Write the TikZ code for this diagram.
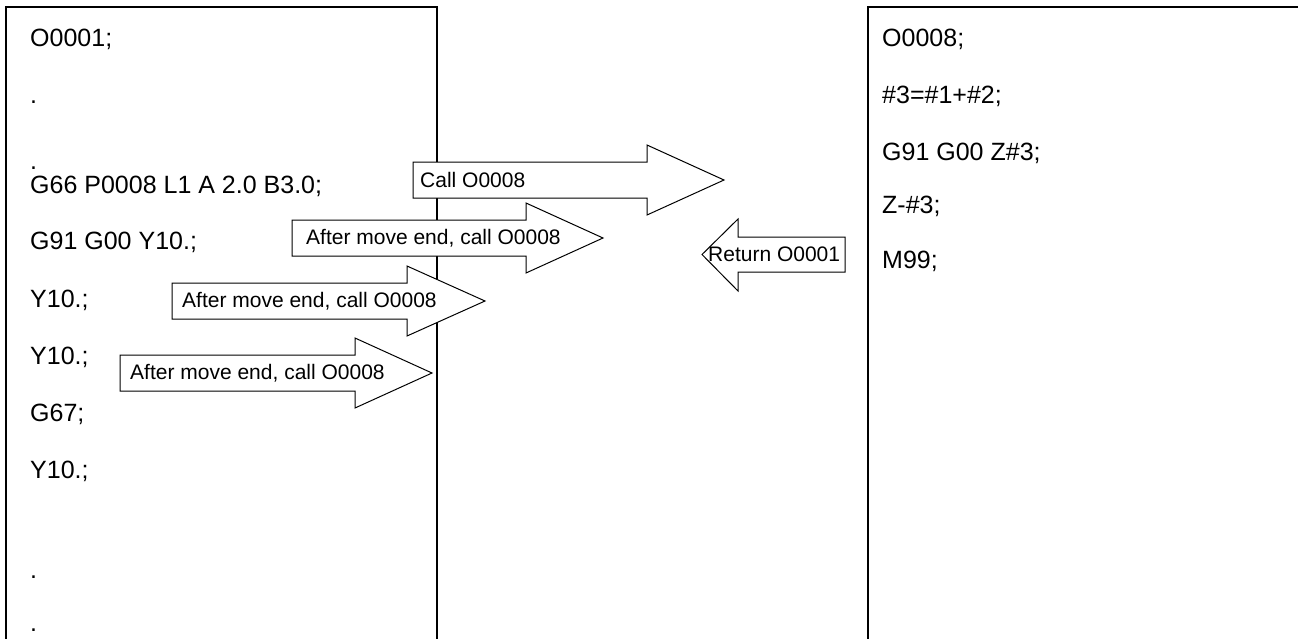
\documentclass[tikz,border=0pt]{standalone}
\usepackage{fontspec}
\setmainfont{Liberation Sans}
\begin{document}
\begin{tikzpicture}[x=1pt,y=-1pt,
  boxline/.style={line width=2pt},
  code/.style={anchor=base west,inner sep=0pt,font=\fontsize{25}{30}\selectfont},
  arrowshape/.style={draw=black,fill=white,line width=1pt,line join=miter},
  alabel/.style={anchor=west,inner sep=0pt,font=\fontsize{21}{25}\selectfont}]
\useasboundingbox (0,0) rectangle (1298,638);
% program boxes
\draw[boxline] (6,645) -- (6,7) -- (437,7) -- (437,645);
\draw[boxline] (868,645) -- (868,7) -- (1305,7);
% main program text
\node[code] (m1) at (30,46) {O0001;};
\node[code] (m2) at (30,103) {.};
\node[code] (m3) at (30,169) {.};
\node[code] (m4) at (30,193) {G66 P0008 L1 A 2.0 B3.0;};
\node[code] (m5) at (30,249) {G91 G00 Y10.;};
\node[code] (m6) at (30,307) {Y10.;};
\node[code] (m7) at (30,364) {Y10.;};
\node[code] (m8) at (30,421) {G67;};
\node[code] (m9) at (30,478) {Y10.;};
\node[code] (m10) at (30,578) {.};
\node[code] (m11) at (30,631) {.};
% macro program text
\node[code] (s1) at (882,46) {O0008;};
\node[code] (s2) at (882,103) {\#3=\#1+\#2;};
\node[code] (s3) at (882,160) {G91 G00 Z\#3;};
\node[code] (s4) at (882,213) {Z-\#3;};
\node[code] (s5) at (882,268) {M99;};
% block arrows
\draw[arrowshape] (413,162) -- (647,162) -- (647,145) -- (724,180) -- (647,215) -- (647,198) -- (413,198) -- cycle;
\node[alabel] (a1) at (420,180) {Call O0008};
\draw[arrowshape] (292,220) -- (526,220) -- (526,203) -- (603,238) -- (526,273) -- (526,256) -- (292,256) -- cycle;
\node[alabel] (a2) at (306,238) {After move end, call O0008};
\draw[arrowshape] (172,283) -- (407,283) -- (407,266) -- (485,301) -- (407,336) -- (407,319) -- (172,319) -- cycle;
\node[alabel] (a3) at (182,301) {After move end, call O0008};
\draw[arrowshape] (120,355) -- (355,355) -- (355,338) -- (432,373) -- (355,408) -- (355,391) -- (120,391) -- cycle;
\node[alabel] (a4) at (130,373) {After move end, call O0008};
\draw[arrowshape] (845,237) -- (738,237) -- (738,219) -- (702,254.5) -- (738,291) -- (738,272) -- (845,272) -- cycle;
\node[alabel] (r1) at (708,254.5) {Return O0001};
\end{tikzpicture}
\end{document}
